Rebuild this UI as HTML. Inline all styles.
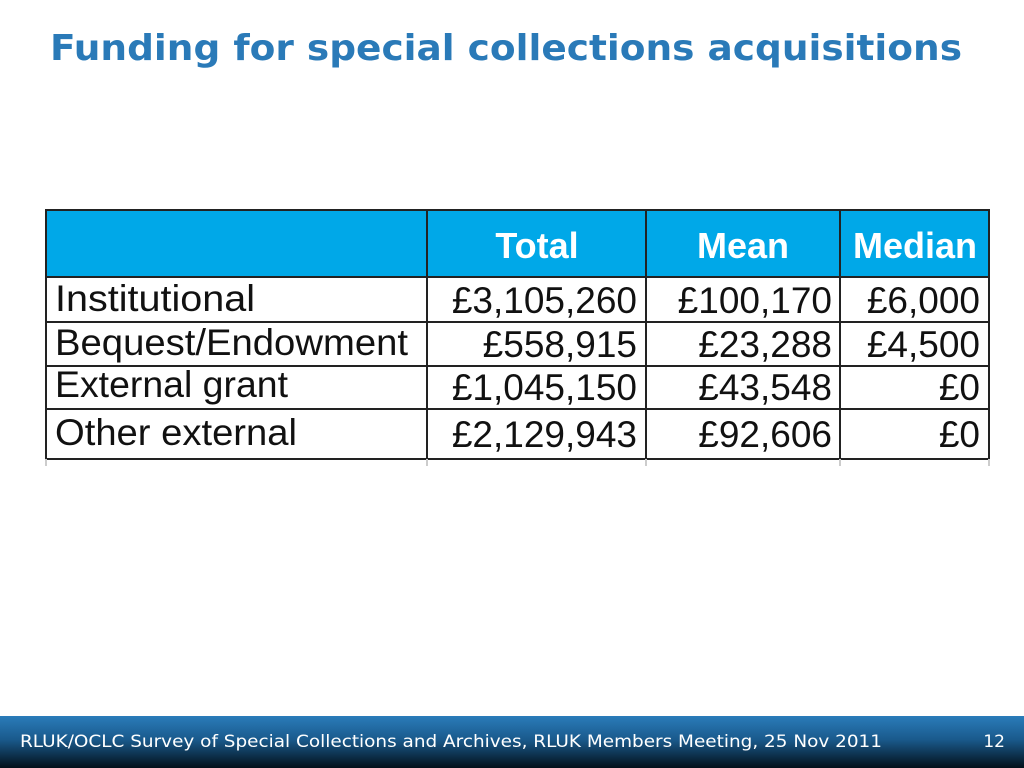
<!DOCTYPE html>
<html><head><meta charset="utf-8"><style>
html,body{margin:0;padding:0;background:#fff;}
svg{display:block}
</style></head><body>
<svg width="1024" height="768" viewBox="0 0 1024 768">
<defs>
<linearGradient id="fg" x1="0" y1="0" x2="0" y2="1">
<stop offset="0" stop-color="#2a7cba"/><stop offset="0.45" stop-color="#1a5a8c"/><stop offset="1" stop-color="#03101a"/>
</linearGradient>
</defs>
<text x="50" y="60" fill="#2a7ab8" font-family="DejaVu Sans, Liberation Sans, sans-serif" font-weight="bold" font-size="36" textLength="912" lengthAdjust="spacingAndGlyphs">Funding for special collections acquisitions</text>

<g>
<rect x="46" y="210" width="943" height="67" fill="#00a8e8"/>
<g stroke="#222" stroke-width="2" fill="none">
<rect x="46" y="210" width="943" height="249"/>
<line x1="46" y1="277" x2="989" y2="277"/>
<line x1="46" y1="322" x2="989" y2="322"/>
<line x1="46" y1="366" x2="989" y2="366"/>
<line x1="46" y1="409" x2="989" y2="409"/>
<line x1="427" y1="210" x2="427" y2="459"/>
<line x1="646" y1="210" x2="646" y2="459"/>
<line x1="840" y1="210" x2="840" y2="459"/>
</g>
<g stroke="#ccc" stroke-width="2">
<line x1="46" y1="459" x2="46" y2="466"/><line x1="427" y1="459" x2="427" y2="466"/>
<line x1="646" y1="459" x2="646" y2="466"/><line x1="840" y1="459" x2="840" y2="466"/><line x1="989" y1="459" x2="989" y2="466"/>
</g>
<g font-family="Liberation Sans, sans-serif" font-weight="bold" font-size="36" fill="#fff" text-anchor="middle">
<text x="537" y="258">Total</text>
<text x="743" y="258">Mean</text>
<text x="915" y="258">Median</text>
</g>
<g font-family="Liberation Sans, sans-serif" font-size="37" fill="#111">
<text x="55" y="311" textLength="200" lengthAdjust="spacingAndGlyphs">Institutional</text>
<text x="55" y="355" textLength="353" lengthAdjust="spacingAndGlyphs">Bequest/Endowment</text>
<text x="55" y="397" textLength="233" lengthAdjust="spacingAndGlyphs">External grant</text>
<text x="55" y="445" textLength="242" lengthAdjust="spacingAndGlyphs">Other external</text>
</g>
<g font-family="Liberation Sans, sans-serif" font-size="37" fill="#111" text-anchor="end">
<text x="637" y="313">£3,105,260</text>
<text x="832" y="313">£100,170</text>
<text x="980" y="313">£6,000</text>
<text x="637" y="357">£558,915</text>
<text x="832" y="357">£23,288</text>
<text x="980" y="357">£4,500</text>
<text x="637" y="400">£1,045,150</text>
<text x="832" y="400">£43,548</text>
<text x="980" y="400">£0</text>
<text x="637" y="447">£2,129,943</text>
<text x="832" y="447">£92,606</text>
<text x="980" y="447">£0</text>
</g>
</g>

<rect x="0" y="716" width="1024" height="52" fill="url(#fg)"/>
<text x="20" y="747" fill="#fff" font-family="DejaVu Sans, Liberation Sans, sans-serif" font-size="17" textLength="862" lengthAdjust="spacingAndGlyphs">RLUK/OCLC Survey of Special Collections and Archives, RLUK Members Meeting, 25 Nov 2011</text>
<text x="1005" y="747" fill="#fff" font-family="DejaVu Sans, Liberation Sans, sans-serif" font-size="17" text-anchor="end">12</text>
</svg>
</body></html>
